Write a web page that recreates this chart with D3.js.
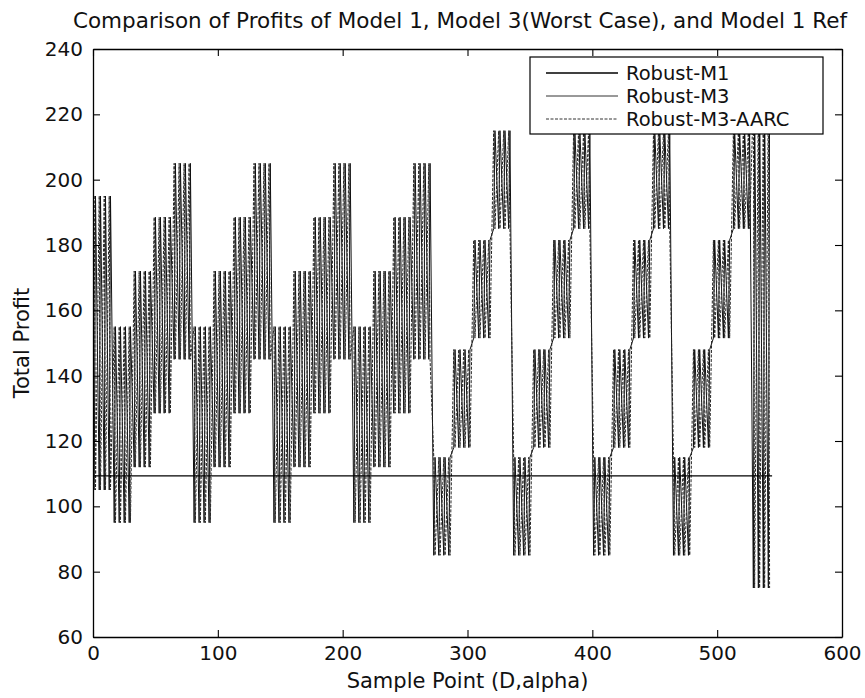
<!DOCTYPE html>
<html>
<head>
<meta charset="utf-8">
<script src="https://cdn.jsdelivr.net/npm/d3@7"></script>
<style>
	body { margin: 0; background: #fff; }
	svg { display: block; font-family: "DejaVu Sans", sans-serif; }
</style>
</head>
<body>
<div id="chart"></div>
<script>
const xTicks = [0, 100, 200, 300, 400, 500, 600];
const yTicks = [60, 80, 100, 120, 140, 160, 180, 200, 220, 240];
const seriesNames = ['Robust-M1', 'Robust-M3', 'Robust-M3-AARC'];

// Robust-M1 stays flat over every sample point
const m1Profit = 109.3;
const firstSample = 1;
const lastSample = 544;

// Robust-M3 and M3-AARC: every block of 16 sample points swings
// between a low and a high profit (read per block off the picture)
const blockLow = [105, 95, 112, 128.5, 145, 95, 112, 128.5, 145, 95, 112, 128.5, 145, 95, 112, 128.5, 145,
	85, 118, 151.5, 185, 85, 118, 151.5, 185, 85, 118, 151.5, 185, 85, 118, 151.5, 185, 75];
const blockHigh = [195, 155, 172, 188.5, 205, 155, 172, 188.5, 205, 155, 172, 188.5, 205, 155, 172, 188.5, 205,
	115, 148, 181.5, 215, 115, 148, 181.5, 215, 115, 148, 181.5, 215, 115, 148, 181.5, 215, 225];
const samplesPerBlock = 16;
const samplesPerSwing = 4;

const width = 865;
const height = 698;
const margin = {top: 49, right: 23, bottom: 61, left: 93};

const x = d3.scaleLinear().domain([0, 600]).range([margin.left, width - margin.right]);
const y = d3.scaleLinear().domain([60, 240]).range([height - margin.bottom, margin.top]);

// corner points of the swings; M3 rises first, AARC drops first
function swingPoints(lowFirst) {
	const pts = [];
	blockLow.forEach((low, b) => {
		const high = blockHigh[b];
		for (let s = 0; s < samplesPerBlock; s += samplesPerSwing) {
			const sample = firstSample + b * samplesPerBlock + s;
			pts.push({sample: sample, profit: lowFirst ? low : high});
			pts.push({sample: sample + 1, profit: lowFirst ? high : low});
		}
	});
	return pts;
}

const m3Points = swingPoints(true);
const aarcPoints = swingPoints(false);
const m1Points = [{sample: firstSample, profit: m1Profit}, {sample: lastSample, profit: m1Profit}];

const svg = d3.select('#chart')
	.append('svg')
	.attr('width', width)
	.attr('height', height);

svg.append('rect')
	.attr('width', width)
	.attr('height', height)
	.attr('fill', '#fff');

const line = d3.line()
	.x(d => x(d.sample))
	.y(d => y(d.profit));

svg.append('path')
	.datum(m3Points)
	.attr('d', line)
	.attr('fill', 'none')
	.attr('stroke', '#111')
	.attr('stroke-width', 1);

svg.append('path')
	.datum(aarcPoints)
	.attr('d', line)
	.attr('fill', 'none')
	.attr('stroke', '#262626')
	.attr('stroke-width', 1)
	.attr('stroke-dasharray', '3,1.5');

svg.append('path')
	.datum(m1Points)
	.attr('d', line)
	.attr('fill', 'none')
	.attr('stroke', '#000')
	.attr('stroke-width', 1.3);

// axes, ticks pointing inwards on all four sides
function styleAxis(g) {
	g.attr('font-family', '"DejaVu Sans", sans-serif')
		.attr('font-size', 20);
	g.select('.domain').attr('stroke', '#000').attr('stroke-width', 1.3);
	g.selectAll('.tick line').attr('stroke', '#000').attr('stroke-width', 1.1);
	g.selectAll('.tick text').attr('fill', '#111');
}

svg.append('g')
	.attr('transform', `translate(0,${y(60)})`)
	.call(d3.axisBottom(x).tickValues(xTicks).tickSizeInner(-7).tickSizeOuter(0).tickPadding(9))
	.call(styleAxis);

svg.append('g')
	.attr('transform', `translate(0,${y(240)})`)
	.call(d3.axisTop(x).tickValues(xTicks).tickSizeInner(-7).tickSizeOuter(0).tickFormat(''))
	.call(styleAxis);

svg.append('g')
	.attr('transform', `translate(${x(0)},0)`)
	.call(d3.axisLeft(y).tickValues(yTicks).tickSizeInner(-7).tickSizeOuter(0).tickPadding(10))
	.call(styleAxis);

svg.append('g')
	.attr('transform', `translate(${x(600)},0)`)
	.call(d3.axisRight(y).tickValues(yTicks).tickSizeInner(-7).tickSizeOuter(0).tickFormat(''))
	.call(styleAxis);

// title and axis labels
svg.append('text')
	.attr('x', 460)
	.attr('y', 28)
	.attr('text-anchor', 'middle')
	.attr('font-size', 21.5)
	.attr('fill', '#111')
	.text('Comparison of Profits of Model 1, Model 3(Worst Case), and Model 1 Ref');

svg.append('text')
	.attr('x', x(300))
	.attr('y', 688)
	.attr('text-anchor', 'middle')
	.attr('font-size', 21)
	.attr('fill', '#111')
	.text('Sample Point (D,alpha)');

svg.append('text')
	.attr('transform', `translate(29,${(y(60) + y(240)) / 2}) rotate(-90)`)
	.attr('text-anchor', 'middle')
	.attr('font-size', 21)
	.attr('fill', '#111')
	.text('Total Profit');

// legend, opaque box in the upper right corner
const legendStyles = [
	{stroke: '#000', width: 1.3, dash: null},
	{stroke: '#333', width: 1, dash: null},
	{stroke: '#333', width: 1, dash: '3,1.5'}
];
const legend = svg.append('g');

legend.append('rect')
	.attr('x', 530)
	.attr('y', 57)
	.attr('width', 293)
	.attr('height', 77)
	.attr('fill', '#fff')
	.attr('stroke', '#000')
	.attr('stroke-width', 1.2);

seriesNames.forEach((name, i) => {
	const rowY = 73 + i * 23;
	legend.append('line')
		.attr('x1', 546)
		.attr('x2', 618)
		.attr('y1', rowY)
		.attr('y2', rowY)
		.attr('stroke', legendStyles[i].stroke)
		.attr('stroke-width', legendStyles[i].width)
		.attr('stroke-dasharray', legendStyles[i].dash);
	legend.append('text')
		.attr('x', 626)
		.attr('y', rowY)
		.attr('dy', '0.36em')
		.attr('font-size', 19.5)
		.attr('fill', '#111')
		.text(name);
});
</script>
</body>
</html>
